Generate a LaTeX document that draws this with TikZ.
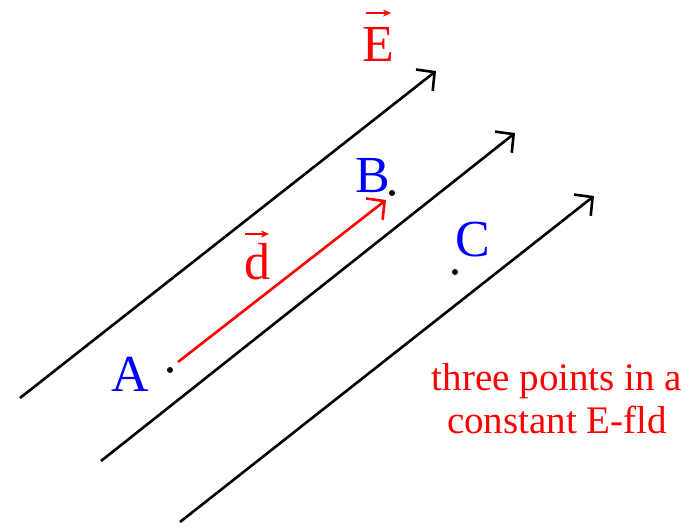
\documentclass[tikz,border=0pt]{standalone}
\usepackage{fontspec}
\setmainfont{Liberation Serif}
\usetikzlibrary{arrows.meta}
\begin{document}
\begin{tikzpicture}[x=1pt,y=-1pt,
  fieldline/.style={line width=2.6pt,-{Straight Barb[length=13pt,width=27pt,line width=2.6pt]}},
  dvec/.style={red,line width=2.6pt,-{Straight Barb[length=13pt,width=27pt,line width=2.6pt]}},
  accentarrow/.style={red,line width=1.8pt,-{Stealth[length=8pt,width=7pt]}},
  ptlabel/.style={blue,font=\fontsize{52}{52}\selectfont,inner sep=0pt},
  veclabel/.style={red,font=\fontsize{52}{52}\selectfont,inner sep=0pt},
  pt/.style={circle,fill=black,inner sep=0pt,minimum size=6pt}]
\useasboundingbox (0,0) rectangle (698,527);
\coordinate (l1s) at (20,398); \coordinate (l1e) at (436,71);
\coordinate (l2s) at (101,461); \coordinate (l2e) at (515,133);
\coordinate (l3s) at (180,522); \coordinate (l3e) at (594,196);
\draw[fieldline] (l1s) -- (l1e);
\draw[fieldline] (l2s) -- (l2e);
\draw[fieldline] (l3s) -- (l3e);
\node[pt] (pA) at (170,370) {};
\node[pt] (pB) at (392,193) {};
\node[pt] (pC) at (455,272) {};
\coordinate (ds) at (178,362);
\coordinate (de) at (386,200);
\draw[dvec] (ds) -- (de);
\node[veclabel] (E) at (378,44) {E};
\coordinate (Ea1) at (366,13); \coordinate (Ea2) at (391,13);
\draw[accentarrow] (Ea1) -- (Ea2);
\node[veclabel] (d) at (257,262) {d};
\coordinate (da1) at (245,234); \coordinate (da2) at (269,234);
\draw[accentarrow] (da1) -- (da2);
\node[ptlabel] (A) at (130,374) {A};
\node[ptlabel] (B) at (373,176) {B};
\node[ptlabel] (C) at (473,240) {C};
\node[red,font=\fontsize{39}{43}\selectfont,align=center,inner sep=0pt] (txt) at (557,399) {three points in a\\constant E-fld};
\end{tikzpicture}
\end{document}
